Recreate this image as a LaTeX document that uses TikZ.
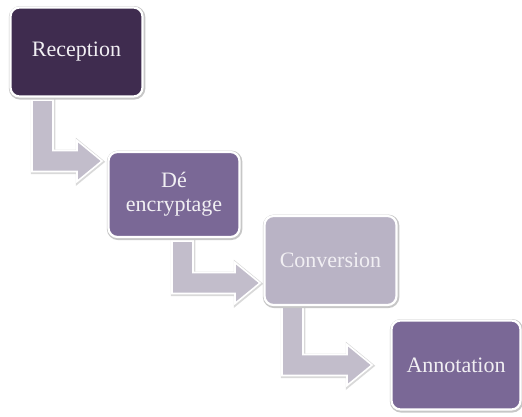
\documentclass[tikz,border=0pt]{standalone}
\usepackage{fontspec}
\setmainfont{Liberation Serif}
\usetikzlibrary{calc}
\definecolor{cdark}{HTML}{3F2C4F}
\definecolor{cmid}{HTML}{7A6896}
\definecolor{clight}{HTML}{B9B3C5}
\definecolor{carrow}{HTML}{C2BDCB}
\definecolor{ctext}{HTML}{F1EFF3}
\tikzset{
  stage/.style={rectangle, rounded corners=9pt, draw=white, line width=2.2pt,
    text=ctext, align=center, inner sep=0pt,
    font=\fontsize{22}{24}\selectfont,
    preaction={draw=black!22, line width=4.5pt, transform canvas={xshift=0.6pt,yshift=-0.8pt}}},
  arrowbody/.style={fill=carrow, draw=white, line width=1.6pt, line join=miter,
    preaction={draw=black!15, line width=3.5pt, transform canvas={xshift=0.5pt,yshift=-0.8pt}}}
}
\newcommand\bentarrow[2]{%
  \path[arrowbody] let \p1=(#1), \p2=(#2) in
    (\x1,\y1) -- (\x1+21pt,\y1) -- (\x1+21pt,\y2+10.5pt) -- (\x2-25pt,\y2+10.5pt)
    -- (\x2-25pt,\y2+20.5pt) -- (\x2,\y2) -- (\x2-25pt,\y2-20.5pt) -- (\x2-25pt,\y2-10.5pt)
    -- (\x1,\y2-10.5pt) -- cycle;}
\begin{document}
\begin{tikzpicture}[x=1pt,y=1pt]
\useasboundingbox (0,0) rectangle (522,-417);
% arrows first (behind boxes)
\coordinate (s1) at (32,-100);
\coordinate (t1) at (102,-161);
\coordinate (s2) at (172,-241);
\coordinate (t2) at (260,-283);
\coordinate (s3) at (282,-307);
\coordinate (t3) at (372,-365);
\bentarrow{s1}{t1}
\bentarrow{s2}{t2}
\bentarrow{s3}{t3}
\node[stage, fill=cdark, minimum width=132pt, minimum height=89pt] (rec) at (76.5,-52) {Reception};
\node[stage, fill=cmid, minimum width=131pt, minimum height=85pt] (dec) at (174,-194.5) {Dé\\encryptage};
\node[stage, fill=clight, minimum width=132pt, minimum height=89pt] (con) at (330.5,-260.5) {Conversion};
\node[stage, fill=cmid, minimum width=129pt, minimum height=89pt] (ann) at (456,-365) {Annotation};
\end{tikzpicture}
\end{document}
